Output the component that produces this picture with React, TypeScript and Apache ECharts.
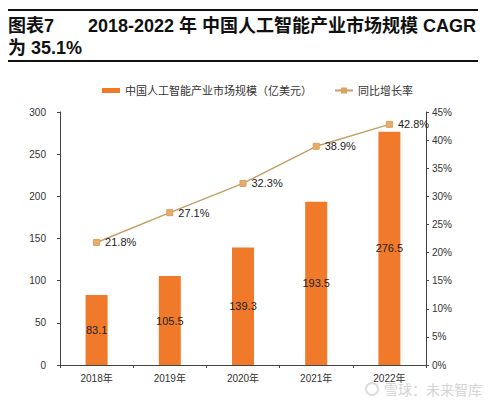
import React, { useEffect, useRef } from "react";
import * as echarts from "echarts";

const categories = ["2018年", "2019年", "2020年", "2021年", "2022年"];
const marketSize = [83.1, 105.5, 139.3, 193.5, 276.5];
const growthRate = [21.8, 27.1, 32.3, 38.9, 42.8];
const barName = "中国人工智能产业市场规模（亿美元）";
const lineName = "同比增长率";
const titleLine1a = "图表7";
const titleLine1b = "2018-2022 年 中国人工智能产业市场规模 CAGR";
const titleLine2 = "为 35.1%";
const watermark = "雪球：未来智库";

const FONT = "'Liberation Sans', Arial, 'Noto Sans CJK SC', sans-serif";

export default function App() {
  const ref = useRef<HTMLDivElement>(null);
  useEffect(() => {
    const chart = echarts.init(ref.current!, undefined, { renderer: "svg" });
    chart.setOption({
      animation: false,
      backgroundColor: "#ffffff",
      textStyle: { fontFamily: FONT },
      graphic: [
        { type: "line", shape: { x1: 8, y1: 10, x2: 478, y2: 10 }, style: { stroke: "#111", lineWidth: 2 } },
        { type: "line", shape: { x1: 8, y1: 61, x2: 478, y2: 61 }, style: { stroke: "#111", lineWidth: 2 } },
        {
          type: "text", x: 8, y: 26,
          style: { text: titleLine1a, fontSize: 18, fontWeight: "bold", fill: "#111", fontFamily: FONT, verticalAlign: "middle" },
        },
        {
          type: "text", x: 88, y: 26,
          style: { text: titleLine1b, fontSize: 18, fontWeight: "bold", fill: "#111", fontFamily: FONT, verticalAlign: "middle" },
        },
        {
          type: "text", x: 8, y: 48,
          style: { text: titleLine2, fontSize: 18, fontWeight: "bold", fill: "#111", fontFamily: FONT, verticalAlign: "middle" },
        },
        {
          type: "ring", shape: { cx: 372, cy: 389, r: 7, r0: 5 },
          style: { fill: "#dcdcdc" },
        },
        {
          type: "text", x: 384, y: 390,
          style: { text: watermark, fontSize: 14, fill: "#d4d4d4", fontFamily: FONT, verticalAlign: "middle" },
        },
      ],
      legend: {
        top: 80,
        left: 97,
        itemGap: 22,
        itemWidth: 18,
        itemHeight: 5,
        textStyle: { fontSize: 11, color: "#333", fontFamily: FONT },
        data: [
          { name: barName, icon: "rect" },
          { name: lineName },
        ],
      },
      grid: { left: 60, right: 62, top: 112, bottom: 35 },
      xAxis: {
        type: "category",
        data: categories,
        axisLine: { lineStyle: { color: "#444", width: 1 } },
        axisTick: { show: true, alignWithLabel: false, length: 3, lineStyle: { color: "#444" } },
        axisLabel: { color: "#333", fontSize: 10, margin: 8 },
      },
      yAxis: [
        {
          type: "value",
          min: 0, max: 300, interval: 50,
          axisLine: { show: true, lineStyle: { color: "#444" } },
          axisTick: { show: true, length: 3, lineStyle: { color: "#444" } },
          axisLabel: { color: "#333", fontSize: 10, margin: 14 },
          splitLine: { show: false },
        },
        {
          type: "value",
          min: 0, max: 45, interval: 5,
          position: "right",
          axisLine: { show: true, lineStyle: { color: "#444" } },
          axisTick: { show: true, length: 3, lineStyle: { color: "#444" } },
          axisLabel: { color: "#333", fontSize: 10, margin: 6, formatter: "{value}%" },
          splitLine: { show: false },
        },
      ],
      series: [
        {
          name: barName,
          type: "bar",
          data: marketSize,
          barWidth: 22,
          itemStyle: { color: "#F07A2A" },
          label: {
            show: true,
            position: "inside",
            color: "#222",
            fontSize: 11,
            formatter: (p: any) => p.value.toFixed(1),
          },
        },
        {
          name: lineName,
          type: "line",
          yAxisIndex: 1,
          data: growthRate,
          symbol: "rect",
          symbolSize: 6,
          lineStyle: { color: "#C49E64", width: 1.5 },
          itemStyle: { color: "#E8AC68", borderColor: "#D9A060", borderWidth: 1 },
          label: {
            show: true,
            position: "right",
            distance: 5,
            color: "#222",
            fontSize: 11,
            formatter: (p: any) => p.value.toFixed(1) + "%",
          },
        },
      ],
    });
    return () => chart.dispose();
  }, []);
  return (
    <div
      ref={ref}
      style={{ position: "absolute", left: 0, top: 0, width: 488, height: 400 }}
    />
  );
}
